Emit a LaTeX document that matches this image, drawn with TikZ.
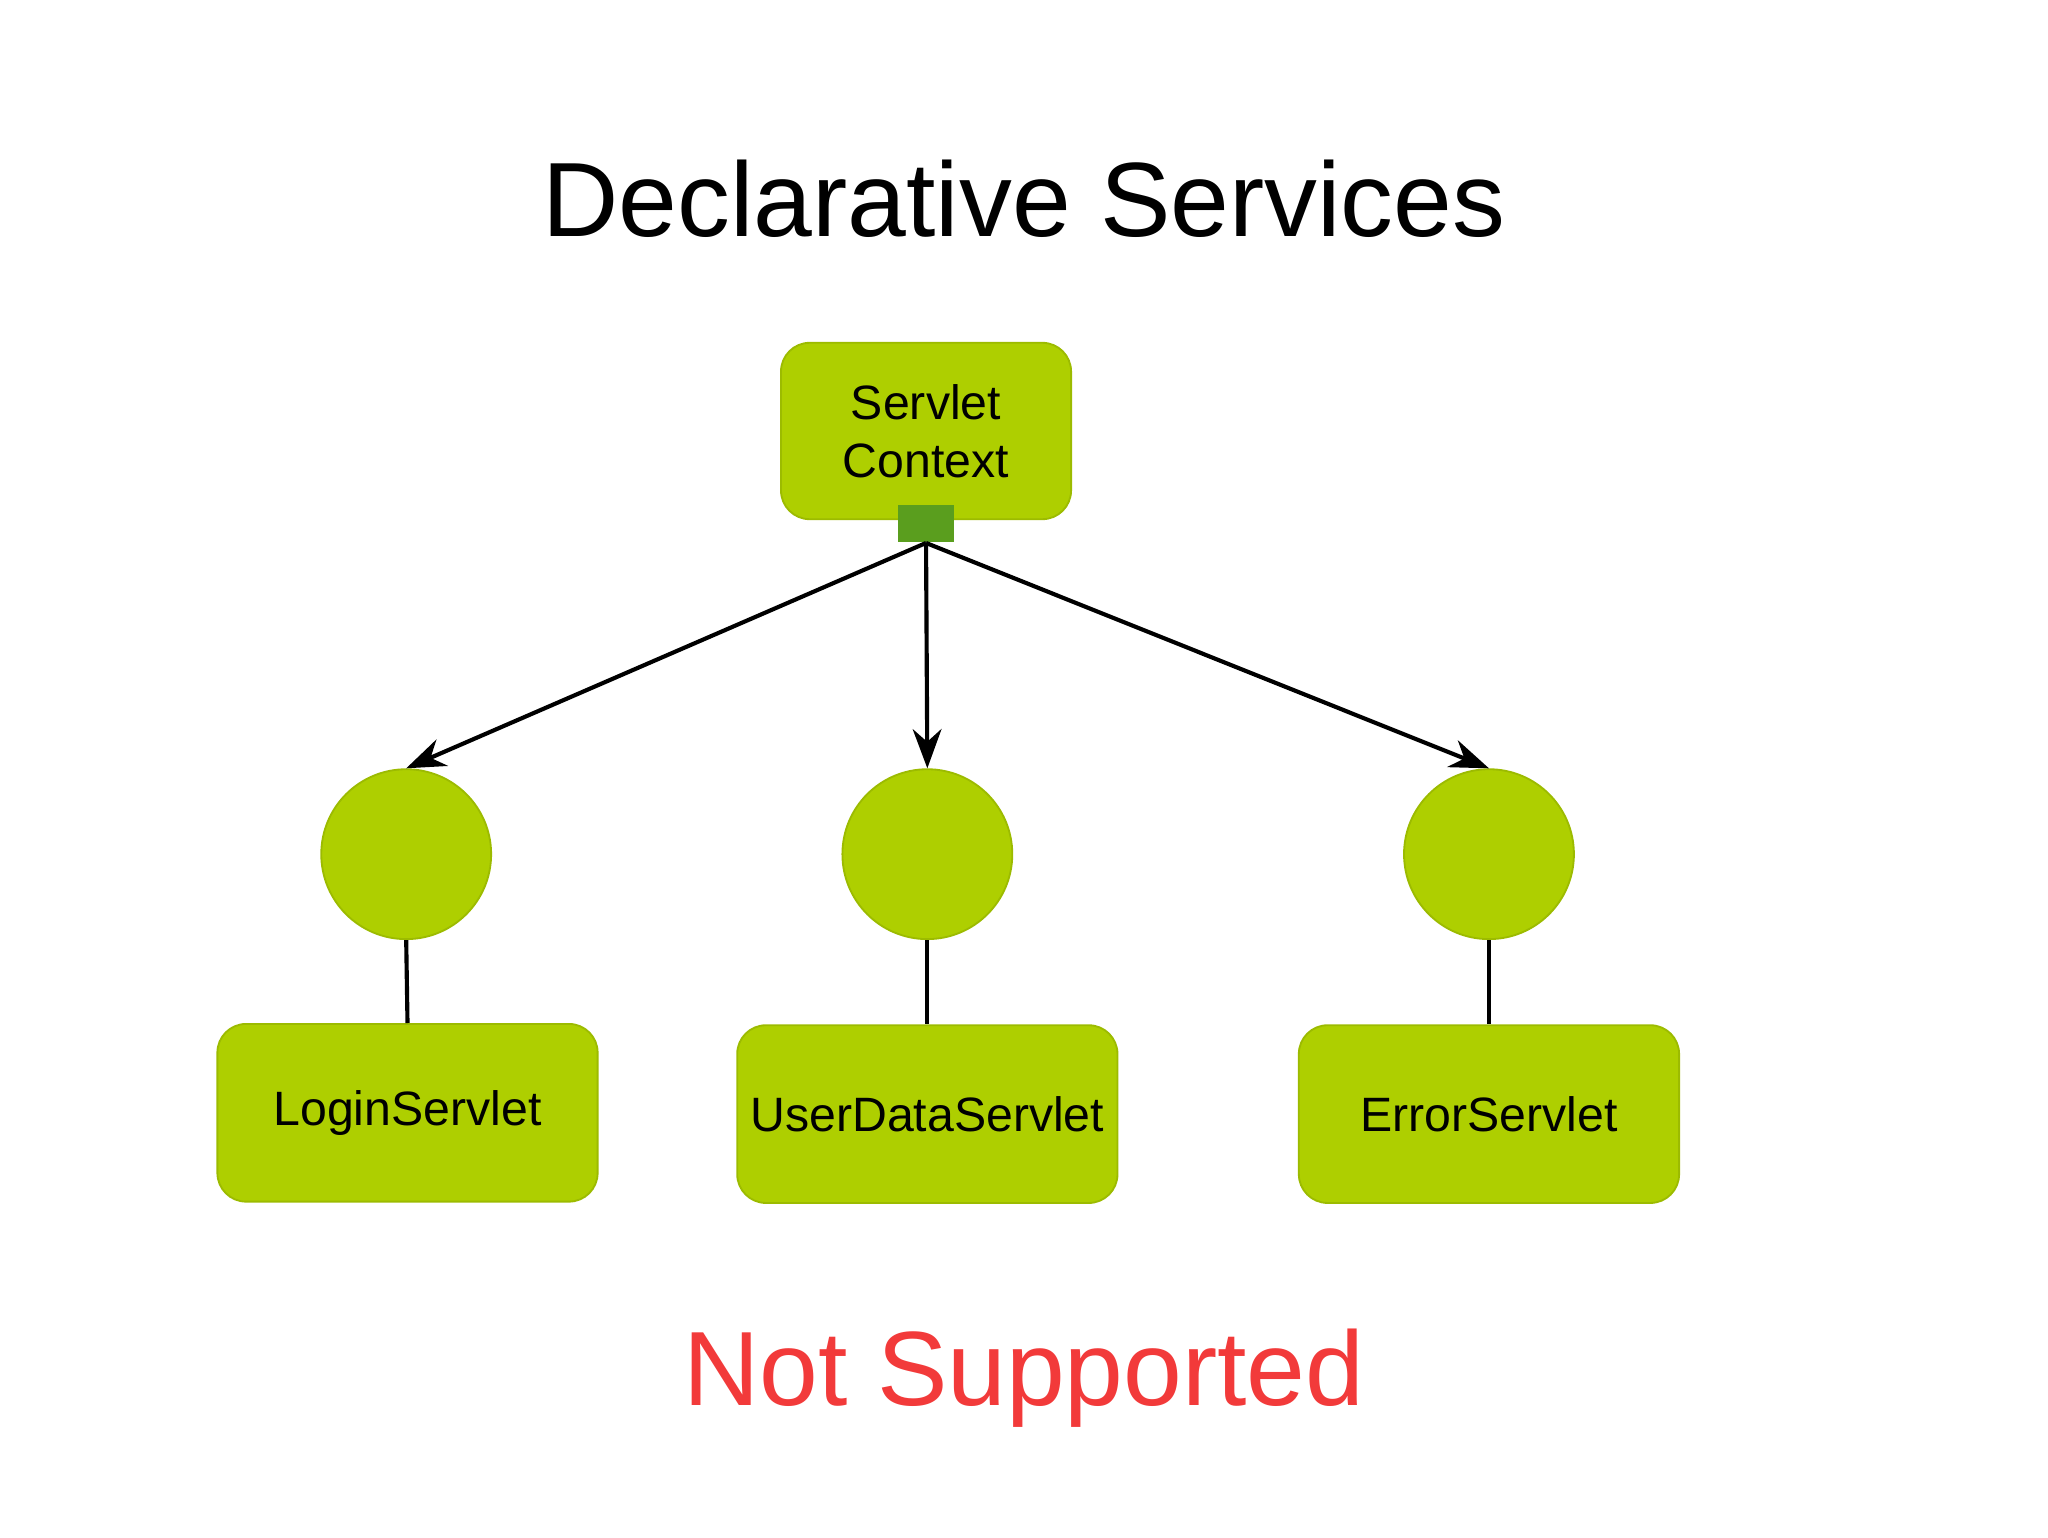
\documentclass[tikz,border=0pt]{standalone}
\usepackage{fontspec}
\setmainfont{Liberation Sans}
\usetikzlibrary{arrows.meta}
\definecolor{lime}{HTML}{AECF00}
\definecolor{limeb}{HTML}{9CBB00}
\definecolor{dgreen}{HTML}{5A9E1E}
\definecolor{nred}{HTML}{F23A3A}
\begin{document}
\begin{tikzpicture}[x=0.01cm,y=-0.01cm,
  box/.style={draw=limeb,fill=lime,rounded corners=0.22cm,minimum width=2.91cm,minimum height=1.36cm,inner sep=0pt,font=\fontsize{10.5}{12}\selectfont,align=center},
  circ/.style={draw=limeb,fill=lime,ellipse,minimum width=1.31cm,minimum height=1.28cm,inner sep=0pt},
  arr/.style={line width=0.9pt,-{Stealth[length=0.3cm,width=0.22cm]}},
  ln/.style={line width=0.9pt}]
\useasboundingbox (0,0) rectangle (1568,1177);
\node[font=\fontsize{23}{26}\selectfont] (title) at (784,152) {Declarative Services};
\node[box,minimum width=2.22cm,minimum height=1.35cm,font=\fontsize{10.5}{12.6}\selectfont] (sc) at (709,330) {Servlet\\Context};
\node[fill=dgreen,minimum width=0.43cm,minimum height=0.28cm,inner sep=0pt] (sq) at (709,401) {};
\node[circle,draw=limeb,fill=lime,minimum size=1.3cm,inner sep=0pt] (c1) at (311,654) {};
\node[circle,draw=limeb,fill=lime,minimum size=1.3cm,inner sep=0pt] (c2) at (710,654) {};
\node[circle,draw=limeb,fill=lime,minimum size=1.3cm,inner sep=0pt] (c3) at (1140,654) {};
\node[box] (b1) at (312,852) {LoginServlet};
\node[box] (b2) at (710,853) {UserDataServlet};
\node[box] (b3) at (1140,853) {ErrorServlet};
\draw[arr] (sq.south) -- (c1.north);
\draw[arr] (sq.south) -- (c2.north);
\draw[arr] (sq.south) -- (c3.north);
\draw[ln] (c1.south) -- (b1.north);
\draw[ln] (c2.south) -- (b2.north);
\draw[ln] (c3.south) -- (b3.north);
\node[font=\fontsize{23}{26}\selectfont,text=nred] (ns) at (784,1055) {Not Supported};
\end{tikzpicture}
\end{document}
